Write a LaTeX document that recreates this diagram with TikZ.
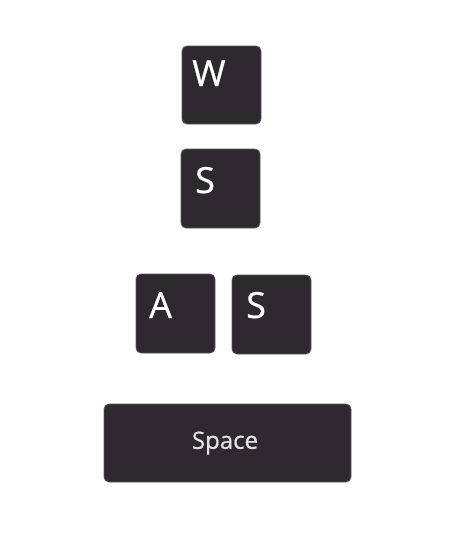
\documentclass[tikz,border=0pt]{standalone}
\usepackage{fontspec}
\setmainfont{Open Sans}
\newfontfamily\keyfont[FakeBold=0.6]{Open Sans}
\definecolor{keyfill}{HTML}{2D292E}
\definecolor{keyedge}{HTML}{5A575B}
\definecolor{spacetext}{HTML}{E4E4E4}
\begin{document}
\begin{tikzpicture}[x=1pt,y=-1pt,
  keybox/.style={draw=keyedge,line width=0.8pt,fill=keyfill,rounded corners=5pt},
  keylabel/.style={anchor=base west,inner sep=0pt,text=white,font=\keyfont\fontsize{36}{36}\selectfont},
  spacelabel/.style={inner sep=0pt,text=spacetext,font=\keyfont\fontsize{24}{24}\selectfont}]
\useasboundingbox (0,0) rectangle (458,533);
\draw[keybox] (182,46) rectangle (261,124);
\coordinate (w) at (182,46);
\draw[keybox] (181,149) rectangle (260,228);
\coordinate (s1) at (181,149);
\draw[keybox] (136,274) rectangle (215,353);
\coordinate (a) at (136,274);
\draw[keybox] (232,275) rectangle (311,354);
\coordinate (s2) at (232,275);
\draw[keybox] (104,404) rectangle (351,482);
\coordinate (sp) at (225,443);
\node[keylabel] (wl) at ([xshift=10pt,yshift=-40pt]w) {W};
\node[keylabel] (sl) at ([xshift=14pt,yshift=-44pt]s1) {S};
\node[keylabel] (al) at ([xshift=13pt,yshift=-44pt]a) {A};
\node[keylabel] (s2l) at ([xshift=14pt,yshift=-43pt]s2) {S};
\node[spacelabel] (spl) at (sp) {Space};
\end{tikzpicture}
\end{document}
